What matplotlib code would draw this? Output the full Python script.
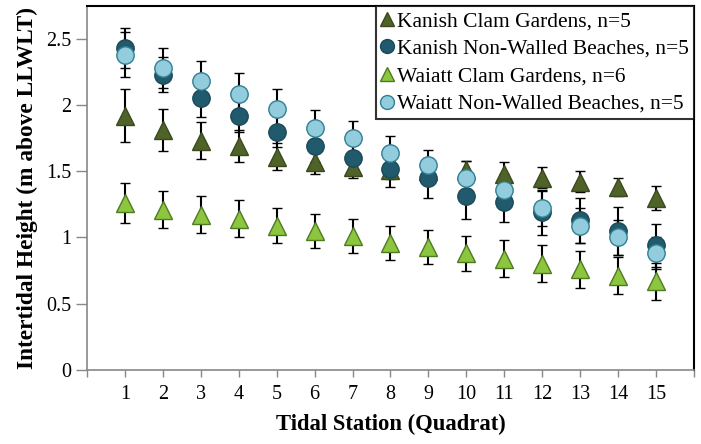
import numpy as np
import matplotlib
matplotlib.use('Agg')
import matplotlib.pyplot as plt
from matplotlib.lines import Line2D

# data
stations = np.arange(1, 16)
kanish_cg = [1.92, 1.81, 1.73, 1.69, 1.61, 1.57, 1.53, 1.51, 1.50, 1.51, 1.48, 1.45, 1.42, 1.38, 1.30]
kanish_cg_err = [0.20, 0.16, 0.14, 0.12, 0.10, 0.09, 0.08, 0.07, 0.07, 0.07, 0.09, 0.08, 0.08, 0.07, 0.09]
kanish_nw = [2.43, 2.23, 2.05, 1.92, 1.80, 1.69, 1.60, 1.52, 1.45, 1.31, 1.27, 1.19, 1.13, 1.05, 0.94]
kanish_nw_err = [0.15, 0.13, 0.14, 0.12, 0.12, 0.12, 0.13, 0.14, 0.15, 0.17, 0.15, 0.17, 0.17, 0.18, 0.16]
waiatt_cg = [1.26, 1.21, 1.17, 1.14, 1.09, 1.05, 1.01, 0.96, 0.93, 0.88, 0.84, 0.80, 0.76, 0.71, 0.67]
waiatt_cg_err = [0.15, 0.14, 0.14, 0.14, 0.13, 0.13, 0.13, 0.13, 0.13, 0.13, 0.14, 0.14, 0.14, 0.14, 0.14]
waiatt_nw = [2.38, 2.28, 2.18, 2.08, 1.97, 1.83, 1.75, 1.64, 1.55, 1.45, 1.36, 1.22, 1.09, 1.00, 0.88]
waiatt_nw_err = [0.17, 0.15, 0.15, 0.16, 0.15, 0.13, 0.13, 0.13, 0.11, 0.13, 0.12, 0.13, 0.13, 0.13, 0.12]
series_names = ['Kanish Clam Gardens, n=5', 'Kanish Non-Walled Beaches, n=5',
                'Waiatt Clam Gardens, n=6', 'Waiatt Non-Walled Beaches, n=5']
ytick_vals = [0, 0.5, 1, 1.5, 2, 2.5]
ytick_labels = ['0', '0.5', '1', '1.5', '2', '2.5']
xtick_labels = [str(s) for s in stations]

plt.rcParams['font.family'] = ['Liberation Serif', 'DejaVu Serif']

fig = plt.figure(figsize=(7.01, 4.44), dpi=100)
ax = fig.add_axes([0.124, 0.167, 0.866, 0.820])

styles = [
    (kanish_cg, kanish_cg_err, '^', '#4f6228', '#3b4a1e', 13),
    (kanish_nw, kanish_nw_err, 'o', '#215a6c', '#1b4a58', 12.5),
    (waiatt_cg, waiatt_cg_err, '^', '#8cc63f', '#4f7a22', 13),
    (waiatt_nw, waiatt_nw_err, 'o', '#93cddd', '#2f7f94', 12.5),
]
for (vals, errs, mk, fc, ec, ms), name in zip(styles, series_names):
    ax.errorbar(stations, vals, yerr=errs, fmt=mk, ms=ms, mfc=fc, mec=ec,
                mew=1.0, ecolor='black', elinewidth=1.5, capsize=3.6,
                capthick=1.5, label=name)

ax.set_xlim(0, 16)
ax.set_ylim(0, 2.75)
ax.set_xticks(np.arange(0, 17))
ax.set_xticklabels([''] + xtick_labels + [''])
ax.set_yticks(ytick_vals)
ax.set_yticklabels(ytick_labels)
ax.tick_params(axis='both', direction='out', width=1, color='#888888', labelsize=14.5)
ax.tick_params(axis='x', length=5, pad=6)
ax.tick_params(axis='y', length=8, pad=3)

for side in ['left', 'bottom']:
    ax.spines[side].set_color('#888888')
    ax.spines[side].set_linewidth(1.2)
for side in ['top', 'right']:
    ax.spines[side].set_color('black')
    ax.spines[side].set_linewidth(1.5)

ax.set_xlabel('Tidal Station (Quadrat)', fontsize=16.3, fontweight='bold', labelpad=7)
ax.set_ylabel('Intertidal Height (m above LLWLT)', fontsize=16.8, fontweight='bold', labelpad=6)

# legend shows markers only, no error bars
leg_handles = [Line2D([], [], ls='none', marker=mk, ms=10, mfc=fc, mec=ec, mew=1.0)
               for (_, _, mk, fc, ec, ms) in styles]
leg = ax.legend(leg_handles, series_names, loc='upper right', bbox_to_anchor=(1.0, 1.0),
                fontsize=15.5, frameon=True, fancybox=False, edgecolor='black',
                handlelength=0.5, handletextpad=0.2, borderpad=0.25,
                labelspacing=0.35, borderaxespad=0.0)
leg.get_frame().set_linewidth(1.5)

fig.savefig('out.png', dpi=100)
